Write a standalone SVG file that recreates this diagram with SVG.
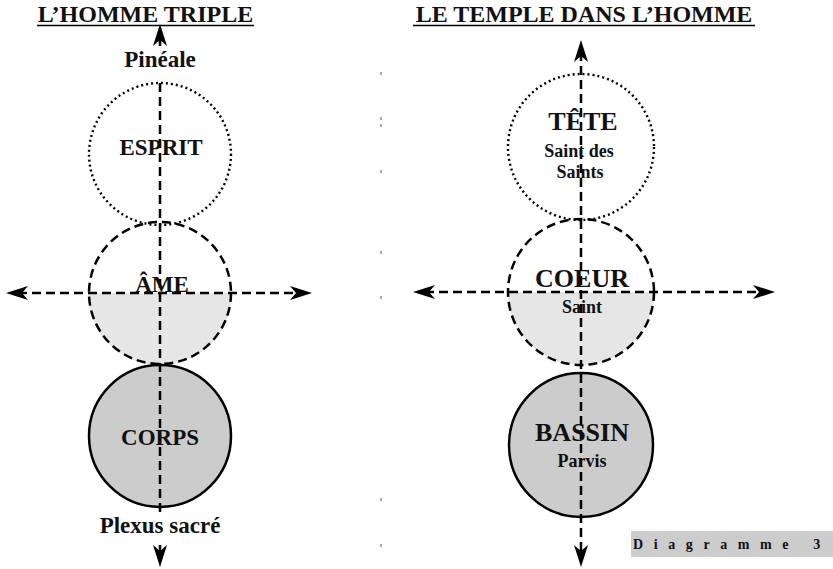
<svg xmlns="http://www.w3.org/2000/svg" width="833" height="569" viewBox="0 0 833 569">
<style>
text{font-family:"Liberation Serif","DejaVu Serif",serif;font-weight:bold;fill:#111;text-anchor:middle}
.title{font-size:24px}
.big{font-size:23px}
.lbl{font-size:26px}
.sub{font-size:18px}
.dash{fill:none;stroke:#000;stroke-width:2.5;stroke-dasharray:9 5}
.dot{fill:none;stroke:#000;stroke-width:2.4;stroke-dasharray:2 3}
.solid{stroke:#000;stroke-width:2.5;fill:#cccccc}
.uline{stroke:#000;stroke-width:1.5}
.tick{stroke:#555;stroke-width:1}
</style>
<defs>
<marker id="arr" markerUnits="userSpaceOnUse" viewBox="-24 -8 25 16" refX="-12" refY="0" markerWidth="25" markerHeight="16" orient="auto-start-reverse">
<path d="M0,0 L-22,-7 L-16,0 L-22,7 Z" fill="#000"/>
</marker>
</defs>
<rect width="833" height="569" fill="#fff"/>

<g id="titles">
<text class="title" x="145.5" y="22">L’HOMME TRIPLE</text>
<line class="uline" x1="37" y1="25.5" x2="254" y2="25.5"/>
<text class="title" x="584" y="22">LE TEMPLE DANS L’HOMME</text>
<line class="uline" x1="413" y1="25.5" x2="755" y2="25.5"/>
</g>

<g id="ticks">
<line class="tick" x1="381" y1="72" x2="381" y2="75"/>
<line class="tick" x1="381" y1="117" x2="381" y2="120"/>
<line class="tick" x1="381" y1="124" x2="381" y2="127"/>
<line class="tick" x1="381" y1="170" x2="381" y2="173"/>
<line class="tick" x1="381" y1="251" x2="381" y2="254"/>
<line class="tick" x1="381" y1="296" x2="381" y2="299"/>
<line class="tick" x1="381" y1="498" x2="381" y2="501"/>
<line class="tick" x1="381" y1="544" x2="381" y2="547"/>
</g>

<g id="esprit">
<circle class="dot" cx="160" cy="154" r="71"/>
</g>
<g id="ame">
<path d="M88,293 A72,72 0 0 0 232,293 Z" fill="#e6e6e6"/>
<circle class="dash" cx="160" cy="293" r="71"/>
</g>
<g id="corps">
<circle class="solid" cx="160" cy="436" r="71"/>
</g>

<g id="tete">
<circle class="dot" cx="581" cy="147" r="73"/>
</g>
<g id="coeur">
<path d="M508,292 A73,73 0 0 0 654,292 Z" fill="#e6e6e6"/>
<circle class="dash" cx="581" cy="292" r="73"/>
</g>
<g id="bassin">
<circle class="solid" cx="581" cy="445" r="72"/>
</g>

<g id="connectors">
<line class="dash" x1="160" y1="83" x2="160" y2="513"/>
<line class="dash" x1="160" y1="46" x2="160" y2="36" marker-end="url(#arr)"/>
<line class="dash" x1="160" y1="545" x2="160" y2="555" marker-end="url(#arr)"/>
<line class="dash" x1="18" y1="293" x2="300" y2="293" marker-start="url(#arr)" marker-end="url(#arr)"/>
<line class="dash" x1="581" y1="52" x2="581" y2="555" marker-start="url(#arr)" marker-end="url(#arr)"/>
<line class="dash" x1="425" y1="292" x2="763" y2="292" marker-start="url(#arr)" marker-end="url(#arr)"/>
</g>

<g id="labels-left">
<text class="big" x="160" y="67">Pinéale</text>
<text class="big" x="161" y="155">ESPRIT</text>
<text class="big" x="162" y="292">ÂME</text>
<text class="big" x="160" y="445">CORPS</text>
<text class="big" x="160" y="533">Plexus sacré</text>
</g>

<g id="labels-right">
<text class="lbl" x="583" y="130">TÊTE</text>
<text class="sub" x="579" y="157">Saint des</text>
<text class="sub" x="580" y="178">Saints</text>
<text class="lbl" x="582" y="287">COEUR</text>
<text class="sub" x="582" y="313">Saint</text>
<text class="lbl" x="582" y="441">BASSIN</text>
<text class="sub" x="582" y="467">Parvis</text>
</g>

<g id="caption">
<rect x="631" y="531" width="202" height="26" fill="#cccccc"/>
<text x="633" y="549" style="font-size:14px;text-anchor:start;letter-spacing:10.6px">Diagramme 3</text>
</g>
</svg>
